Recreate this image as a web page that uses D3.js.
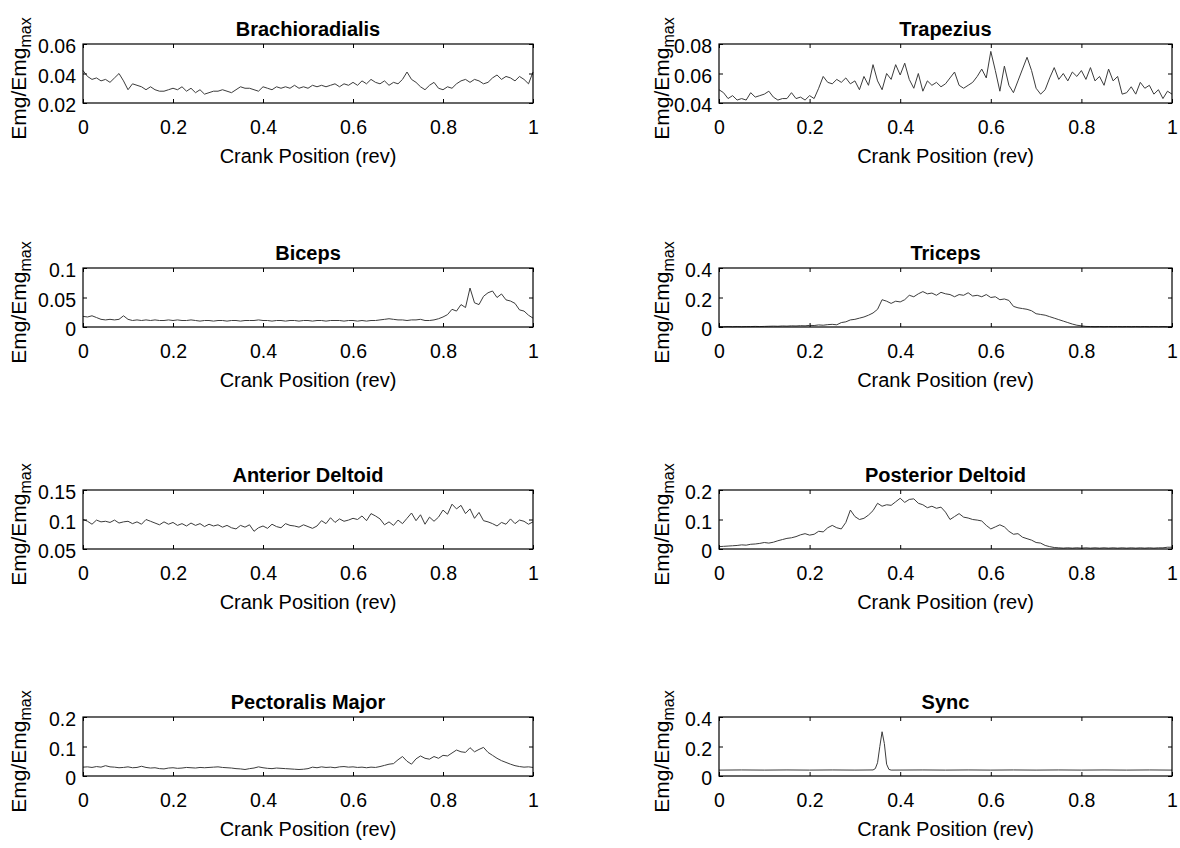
<!DOCTYPE html>
<meta charset="utf-8">
<head>
  <title>EMG over crank cycle</title>
  <style>
    body { margin: 0; background: #fff; }
    text { font-family: "Liberation Sans", Arial, sans-serif; fill: #000; }
    .box { fill: none; stroke: #000; stroke-width: 1.2px; }
    .trace { fill: none; stroke: #3c3c3c; stroke-width: 1px; stroke-linejoin: round; }
    .tick line { stroke: #000; stroke-width: 1px; }
    .tick text { font-size: 19.5px; }
    .title { font-size: 20px; font-weight: bold; }
    .xlabel { font-size: 20px; }
    .ylabel { font-size: 21px; }
  </style>
</head>
<body>
  <svg width="1180" height="848"></svg>
  <script src="https://d3js.org/d3.v7.min.js"></script>
  <script>
    // crank position grid shared by the traces (0..1 rev, every 0.01)
    var crank = d3.range(101).map(function(i) { return i / 100; });
    var xTicks = [0, 0.2, 0.4, 0.6, 0.8, 1];

    var titles = ["Brachioradialis", "Trapezius", "Biceps", "Triceps",
                  "Anterior Deltoid", "Posterior Deltoid", "Pectoralis Major", "Sync"];

    var yDomains = [[0.02, 0.06], [0.04, 0.08], [0, 0.1], [0, 0.4],
                    [0.05, 0.15], [0, 0.2], [0, 0.2], [0, 0.4]];
    var yTicks = [[0.02, 0.04, 0.06], [0.04, 0.06, 0.08], [0, 0.05, 0.1], [0, 0.2, 0.4],
                  [0.05, 0.1, 0.15], [0, 0.1, 0.2], [0, 0.1, 0.2], [0, 0.2, 0.4]];

    var brachioradialis = [0.042,0.038,0.036,0.037,0.035,0.036,0.034,0.037,0.040,0.035,
      0.029,0.033,0.032,0.031,0.029,0.031,0.029,0.028,0.028,0.029,
      0.030,0.029,0.031,0.028,0.030,0.027,0.029,0.026,0.027,0.028,
      0.028,0.029,0.028,0.027,0.029,0.031,0.030,0.030,0.029,0.028,
      0.031,0.030,0.029,0.031,0.030,0.031,0.030,0.032,0.030,0.031,
      0.030,0.032,0.031,0.032,0.031,0.032,0.033,0.031,0.033,0.032,
      0.034,0.032,0.035,0.033,0.036,0.034,0.033,0.035,0.032,0.034,
      0.033,0.036,0.041,0.036,0.034,0.031,0.029,0.032,0.034,0.030,
      0.029,0.031,0.030,0.033,0.035,0.036,0.034,0.036,0.035,0.033,
      0.034,0.037,0.039,0.036,0.038,0.037,0.035,0.038,0.036,0.033,0.041];

    var trapezius = [0.049,0.047,0.043,0.045,0.042,0.043,0.042,0.047,0.044,0.045,
      0.046,0.048,0.044,0.042,0.043,0.043,0.047,0.043,0.044,0.042,
      0.045,0.043,0.050,0.058,0.054,0.053,0.056,0.054,0.057,0.053,
      0.055,0.049,0.058,0.052,0.066,0.055,0.049,0.060,0.056,0.066,
      0.059,0.067,0.056,0.050,0.060,0.048,0.055,0.052,0.054,0.051,
      0.053,0.057,0.061,0.052,0.050,0.052,0.054,0.058,0.063,0.057,
      0.075,0.062,0.048,0.065,0.052,0.047,0.055,0.063,0.071,0.062,
      0.050,0.046,0.049,0.057,0.064,0.056,0.060,0.055,0.061,0.058,
      0.062,0.056,0.064,0.055,0.058,0.052,0.063,0.055,0.058,0.046,
      0.047,0.051,0.046,0.054,0.050,0.052,0.046,0.049,0.043,0.048,0.046];

    var biceps = [0.018,0.017,0.019,0.016,0.013,0.012,0.013,0.012,0.013,0.019,
      0.013,0.011,0.012,0.011,0.012,0.011,0.012,0.011,0.011,0.012,
      0.011,0.012,0.011,0.011,0.012,0.011,0.010,0.011,0.011,0.010,
      0.011,0.011,0.010,0.011,0.011,0.010,0.011,0.011,0.011,0.012,
      0.011,0.011,0.010,0.011,0.011,0.010,0.011,0.011,0.010,0.011,
      0.011,0.010,0.011,0.011,0.010,0.011,0.011,0.011,0.010,0.011,
      0.011,0.010,0.011,0.010,0.011,0.011,0.012,0.013,0.014,0.013,
      0.012,0.012,0.011,0.012,0.012,0.013,0.011,0.011,0.012,0.014,
      0.017,0.021,0.030,0.027,0.038,0.033,0.066,0.041,0.038,0.052,
      0.058,0.061,0.050,0.056,0.046,0.044,0.040,0.029,0.027,0.020,0.015];

    var triceps = [0.003,0.002,0.003,0.002,0.003,0.002,0.003,0.003,0.004,0.003,
      0.004,0.005,0.006,0.005,0.007,0.006,0.008,0.007,0.009,0.008,
      0.011,0.010,0.014,0.012,0.016,0.018,0.015,0.030,0.035,0.048,
      0.052,0.060,0.068,0.080,0.095,0.120,0.185,0.175,0.160,0.175,
      0.170,0.185,0.215,0.205,0.225,0.240,0.225,0.230,0.215,0.235,
      0.225,0.220,0.205,0.220,0.215,0.232,0.210,0.215,0.205,0.220,
      0.200,0.205,0.185,0.190,0.180,0.140,0.130,0.125,0.120,0.110,
      0.090,0.085,0.080,0.070,0.060,0.050,0.040,0.030,0.020,0.012,
      0.008,0.004,0.003,0.002,0.003,0.002,0.003,0.002,0.003,0.002,
      0.003,0.002,0.003,0.002,0.003,0.002,0.003,0.002,0.003,0.002,0.003];

    var anteriorDeltoid = [0.100,0.097,0.092,0.099,0.096,0.097,0.095,0.099,0.094,0.096,
      0.097,0.093,0.096,0.092,0.100,0.097,0.094,0.091,0.096,0.092,
      0.095,0.090,0.093,0.089,0.094,0.090,0.093,0.088,0.092,0.089,
      0.091,0.087,0.090,0.086,0.084,0.090,0.087,0.091,0.080,0.086,
      0.089,0.085,0.092,0.088,0.086,0.093,0.090,0.089,0.087,0.091,
      0.088,0.085,0.089,0.098,0.093,0.103,0.095,0.101,0.097,0.099,
      0.102,0.100,0.106,0.098,0.110,0.106,0.101,0.091,0.096,0.090,
      0.099,0.093,0.102,0.111,0.098,0.108,0.092,0.104,0.097,0.104,
      0.116,0.109,0.126,0.118,0.124,0.110,0.118,0.102,0.112,0.098,
      0.096,0.093,0.089,0.095,0.092,0.101,0.093,0.099,0.097,0.092,0.096];

    var posteriorDeltoid = [0.008,0.009,0.010,0.011,0.012,0.014,0.013,0.016,0.017,0.019,
      0.022,0.020,0.023,0.028,0.032,0.036,0.038,0.042,0.048,0.052,
      0.047,0.050,0.060,0.058,0.072,0.080,0.072,0.068,0.090,0.132,
      0.110,0.100,0.104,0.115,0.130,0.155,0.145,0.150,0.148,0.160,
      0.172,0.158,0.168,0.170,0.155,0.150,0.140,0.145,0.138,0.142,
      0.125,0.100,0.110,0.120,0.108,0.105,0.100,0.098,0.095,0.080,
      0.068,0.075,0.082,0.075,0.060,0.050,0.052,0.040,0.035,0.030,
      0.022,0.020,0.012,0.008,0.005,0.004,0.003,0.004,0.003,0.004,
      0.003,0.004,0.003,0.004,0.003,0.004,0.003,0.004,0.003,0.004,
      0.003,0.004,0.003,0.004,0.003,0.004,0.003,0.004,0.004,0.006,0.006];

    var pectoralisMajor = [0.030,0.031,0.029,0.032,0.030,0.035,0.031,0.030,0.028,0.029,
      0.031,0.028,0.029,0.033,0.029,0.027,0.028,0.025,0.024,0.027,
      0.028,0.026,0.027,0.029,0.028,0.027,0.029,0.028,0.029,0.030,
      0.031,0.029,0.028,0.027,0.025,0.024,0.022,0.025,0.027,0.031,
      0.028,0.026,0.025,0.027,0.026,0.025,0.024,0.023,0.022,0.023,
      0.025,0.030,0.028,0.031,0.029,0.030,0.028,0.031,0.032,0.030,
      0.031,0.029,0.030,0.028,0.030,0.029,0.032,0.036,0.040,0.042,
      0.055,0.066,0.050,0.040,0.058,0.068,0.060,0.057,0.066,0.060,
      0.070,0.068,0.078,0.088,0.082,0.080,0.096,0.082,0.090,0.097,
      0.080,0.070,0.060,0.052,0.046,0.040,0.035,0.032,0.030,0.031,0.029];

    // sync pulse has its own, finer positions around the spike
    var syncPos = [0, 0.05, 0.1, 0.15, 0.2, 0.25, 0.3, 0.34, 0.345, 0.35, 0.355, 0.36, 0.365,
                   0.37, 0.375, 0.38, 0.45, 0.5, 0.55, 0.6, 0.65, 0.7, 0.75, 0.8, 0.85, 0.9, 0.95, 1];
    var syncVal = [0.040, 0.041, 0.040, 0.041, 0.040, 0.041, 0.040, 0.041, 0.050, 0.090, 0.200, 0.300, 0.220,
                   0.080, 0.045, 0.040, 0.041, 0.040, 0.041, 0.040, 0.041, 0.040, 0.041, 0.040, 0.041, 0.040, 0.041, 0.040];

    var series = [brachioradialis, trapezius, biceps, triceps,
                  anteriorDeltoid, posteriorDeltoid, pectoralisMajor, syncVal];

    var svg = d3.select("svg");

    var colLeft = [83, 719],
        colWidth = [450, 453],
        colYLabel = [26, 669],
        rowTop = [44, 268, 490, 717],
        boxH = 59;

    var fmt = function(d) { return String(+d.toFixed(2)); };

    titles.forEach(function(title, i) {
      var col = i % 2, row = Math.floor(i / 2);
      var left = colLeft[col], top = rowTop[row], w = colWidth[col];

      var x = d3.scaleLinear().domain([0, 1]).range([0, w]);
      var y = d3.scaleLinear().domain(yDomains[i]).range([boxH, 0]);

      var g = svg.append("g").attr("transform", "translate(" + left + "," + top + ")");

      var pts = i === 7
        ? syncPos.map(function(p, k) { return [p, syncVal[k]]; })
        : crank.map(function(p, k) { return [p, series[i][k]]; });

      g.append("path")
          .attr("class", "trace")
          .attr("d", d3.line()
              .x(function(d) { return x(d[0]); })
              .y(function(d) { return y(d[1]); })(pts));

      // axes, ticks pointing inward on all four sides
      g.append("g").attr("transform", "translate(0," + boxH + ")")
          .call(d3.axisBottom(x).tickValues(xTicks).tickSizeInner(-4).tickSizeOuter(0)
              .tickPadding(17).tickFormat(fmt));
      g.append("g")
          .call(d3.axisTop(x).tickValues(xTicks).tickSizeInner(-4).tickSizeOuter(0).tickFormat(""));
      var yAxis = g.append("g")
          .call(d3.axisLeft(y).tickValues(yTicks[i]).tickSizeInner(-4).tickSizeOuter(0)
              .tickPadding(7).tickFormat(fmt));
      yAxis.selectAll(".tick text").attr("dy", "0.45em");
      g.append("g").attr("transform", "translate(" + w + ",0)")
          .call(d3.axisRight(y).tickValues(yTicks[i]).tickSizeInner(-4).tickSizeOuter(0).tickFormat(""));
      g.selectAll(".domain").remove();
      g.selectAll(".tick line").attr("stroke", null);
      g.selectAll("g").attr("font-family", null).attr("font-size", null);

      g.append("rect").attr("class", "box")
          .attr("width", w).attr("height", boxH);

      g.append("text").attr("class", "title")
          .attr("x", w / 2).attr("y", -8)
          .attr("text-anchor", "middle")
          .text(title);

      g.append("text").attr("class", "xlabel")
          .attr("x", w / 2).attr("y", boxH + 60)
          .attr("text-anchor", "middle")
          .text("Crank Position (rev)");

      var yl = svg.append("text").attr("class", "ylabel")
          .attr("text-anchor", "middle")
          .attr("transform", "translate(" + colYLabel[col] + "," + (top + boxH / 2 + 5) + ")rotate(-90)");
      yl.append("tspan").text("Emg/Emg");
      yl.append("tspan").attr("font-size", 16).attr("dy", 5).text("max");
    });
  </script>
</body>
</html>
